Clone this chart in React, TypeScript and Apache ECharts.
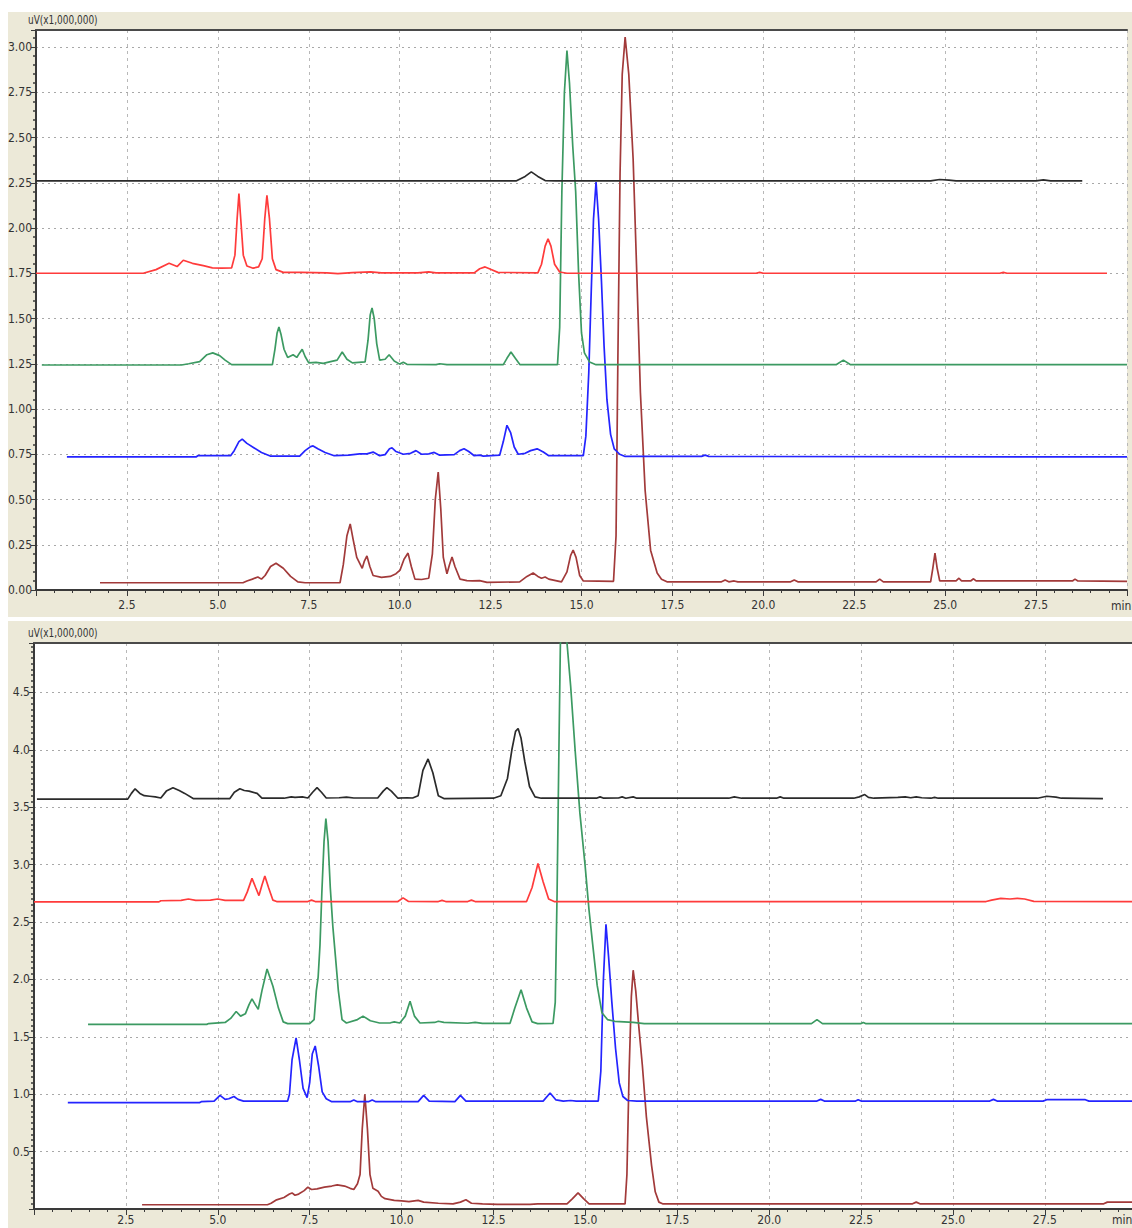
import React, { useEffect, useRef } from "react";
import * as echarts from "echarts";

// ---------- data: top panel (time in min, signal in uV x1,000,000) ----------
const topBlack: number[][] = [
  [0, 2.26], [13.2, 2.26], [13.45, 2.285], [13.62, 2.31], [13.8, 2.285], [14.0, 2.262], [14.3, 2.26],
  [24.6, 2.26], [24.85, 2.268], [25.1, 2.265], [25.3, 2.26], [27.5, 2.26], [27.7, 2.266], [27.9, 2.26], [28.77, 2.26],
];
const topRed: number[][] = [
  [0, 1.75], [2.95, 1.75], [3.3, 1.77], [3.66, 1.805], [3.88, 1.787], [4.05, 1.822], [4.3, 1.805], [4.6, 1.792],
  [4.85, 1.78], [5.1, 1.778], [5.38, 1.78], [5.47, 1.85], [5.53, 2.05], [5.58, 2.19], [5.63, 2.05], [5.7, 1.85],
  [5.8, 1.79], [5.97, 1.778], [6.12, 1.785], [6.22, 1.83], [6.29, 2.05], [6.35, 2.18], [6.42, 2.05], [6.5, 1.83],
  [6.6, 1.77], [6.8, 1.755], [7.3, 1.755], [8.0, 1.752], [8.3, 1.748], [8.7, 1.753], [9.2, 1.758], [9.5, 1.752],
  [10.5, 1.752], [10.8, 1.758], [11.0, 1.752], [12.05, 1.752], [12.2, 1.775], [12.35, 1.785], [12.5, 1.772],
  [12.7, 1.755], [13.8, 1.752], [13.9, 1.8], [14.0, 1.9], [14.08, 1.94], [14.16, 1.9], [14.26, 1.8], [14.4, 1.757],
  [14.6, 1.75], [19.8, 1.75], [19.9, 1.755], [20.0, 1.75], [26.5, 1.75], [26.6, 1.755], [26.7, 1.75], [29.45, 1.75],
];
const topGreen: number[][] = [
  [0.16, 1.243], [4.0, 1.243], [4.2, 1.25], [4.5, 1.262], [4.7, 1.3], [4.86, 1.31], [5.05, 1.295], [5.2, 1.27],
  [5.38, 1.245], [6.5, 1.245], [6.57, 1.33], [6.63, 1.42], [6.68, 1.453], [6.74, 1.41], [6.82, 1.33], [6.92, 1.285],
  [7.07, 1.3], [7.17, 1.285], [7.25, 1.31], [7.32, 1.33], [7.4, 1.29], [7.5, 1.255], [7.7, 1.258], [7.9, 1.252],
  [8.1, 1.262], [8.28, 1.27], [8.42, 1.315], [8.55, 1.275], [8.7, 1.255], [9.05, 1.26], [9.13, 1.38], [9.19, 1.52],
  [9.24, 1.558], [9.3, 1.5], [9.37, 1.36], [9.45, 1.27], [9.6, 1.275], [9.71, 1.3], [9.85, 1.265], [10.0, 1.248],
  [10.1, 1.258], [10.2, 1.247], [11.0, 1.245], [11.1, 1.25], [11.3, 1.245], [12.85, 1.245], [12.95, 1.28],
  [13.06, 1.315], [13.18, 1.28], [13.31, 1.245], [14.34, 1.245], [14.4, 1.45], [14.46, 2.2], [14.53, 2.75],
  [14.6, 2.98], [14.67, 2.8], [14.76, 2.45], [14.84, 2.2], [14.92, 1.75], [15.0, 1.42], [15.08, 1.31], [15.22, 1.26],
  [15.4, 1.245], [22.0, 1.245], [22.2, 1.27], [22.4, 1.245], [30, 1.245],
];
const topBlue: number[][] = [
  [0.85, 0.735], [4.4, 0.735], [4.45, 0.742], [5.35, 0.742], [5.45, 0.77], [5.58, 0.82], [5.67, 0.834], [5.8, 0.81],
  [6.0, 0.785], [6.2, 0.76], [6.44, 0.74], [7.25, 0.74], [7.4, 0.77], [7.55, 0.792], [7.62, 0.796], [7.75, 0.78],
  [7.95, 0.76], [8.2, 0.742], [8.6, 0.745], [8.9, 0.752], [9.1, 0.752], [9.27, 0.762], [9.45, 0.742], [9.6, 0.748],
  [9.72, 0.78], [9.79, 0.785], [9.9, 0.765], [10.1, 0.75], [10.3, 0.755], [10.45, 0.77], [10.6, 0.75], [10.8, 0.752],
  [10.95, 0.76], [11.1, 0.745], [11.5, 0.748], [11.65, 0.77], [11.77, 0.78], [11.9, 0.765], [12.05, 0.742],
  [12.2, 0.745], [12.3, 0.74], [12.75, 0.745], [12.85, 0.82], [12.95, 0.91], [13.05, 0.87], [13.15, 0.79],
  [13.26, 0.75], [13.45, 0.755], [13.6, 0.77], [13.78, 0.78], [13.95, 0.762], [14.1, 0.742], [15.05, 0.742],
  [15.12, 0.85], [15.2, 1.2], [15.26, 1.6], [15.33, 2.05], [15.4, 2.254], [15.47, 2.05], [15.55, 1.7], [15.62, 1.35],
  [15.7, 1.05], [15.8, 0.86], [15.9, 0.78], [16.05, 0.75], [16.2, 0.738], [18.3, 0.738], [18.4, 0.745], [18.5, 0.738],
  [30, 0.735],
];
const topBrown: number[][] = [
  [1.76, 0.04], [5.69, 0.04], [5.8, 0.05], [5.95, 0.06], [6.1, 0.072], [6.2, 0.06], [6.3, 0.08], [6.45, 0.13],
  [6.6, 0.148], [6.8, 0.12], [7.0, 0.075], [7.2, 0.045], [7.4, 0.04], [8.36, 0.04], [8.45, 0.14], [8.55, 0.3],
  [8.64, 0.365], [8.72, 0.28], [8.82, 0.18], [8.97, 0.12], [9.03, 0.16], [9.1, 0.188], [9.18, 0.13], [9.27, 0.08],
  [9.5, 0.07], [9.74, 0.075], [9.9, 0.09], [10.01, 0.11], [10.12, 0.17], [10.23, 0.204], [10.32, 0.13], [10.42, 0.06],
  [10.6, 0.058], [10.8, 0.065], [10.9, 0.2], [10.98, 0.5], [11.06, 0.652], [11.13, 0.45], [11.2, 0.18], [11.3, 0.09],
  [11.37, 0.14], [11.44, 0.182], [11.52, 0.13], [11.66, 0.06], [11.85, 0.052], [12.0, 0.05], [12.2, 0.052],
  [12.4, 0.042], [13.3, 0.045], [13.5, 0.075], [13.67, 0.094], [13.8, 0.075], [13.9, 0.065], [14.0, 0.072],
  [14.1, 0.06], [14.45, 0.045], [14.6, 0.1], [14.7, 0.19], [14.77, 0.221], [14.85, 0.18], [14.95, 0.08], [15.05, 0.05],
  [15.88, 0.048], [15.95, 0.3], [16.0, 1.27], [16.06, 2.3], [16.12, 2.85], [16.2, 3.055], [16.3, 2.85], [16.42, 2.38],
  [16.52, 1.75], [16.62, 1.09], [16.75, 0.55], [16.9, 0.22], [17.08, 0.094], [17.2, 0.06], [17.35, 0.045],
  [18.85, 0.045], [18.95, 0.055], [19.05, 0.045], [19.2, 0.05], [19.3, 0.045], [20.75, 0.045], [20.85, 0.055],
  [20.95, 0.045], [23.1, 0.045], [23.2, 0.06], [23.3, 0.045], [24.6, 0.045], [24.66, 0.12], [24.72, 0.204],
  [24.78, 0.12], [24.85, 0.05], [25.3, 0.05], [25.38, 0.065], [25.45, 0.05], [25.7, 0.05], [25.78, 0.062],
  [25.85, 0.05], [28.5, 0.05], [28.57, 0.06], [28.65, 0.05], [30, 0.048],
];

// ---------- data: bottom panel ----------
const botBlack: number[][] = [
  [0.08, 3.57], [2.55, 3.57], [2.65, 3.62], [2.75, 3.66], [2.88, 3.62], [3.0, 3.6], [3.15, 3.595], [3.3, 3.59],
  [3.45, 3.58], [3.6, 3.64], [3.78, 3.67], [3.95, 3.645], [4.1, 3.62], [4.33, 3.575], [5.33, 3.575], [5.45, 3.63],
  [5.6, 3.66], [5.72, 3.645], [5.85, 3.64], [6.07, 3.62], [6.2, 3.578], [6.8, 3.578], [7.0, 3.59], [7.1, 3.585],
  [7.3, 3.59], [7.45, 3.58], [7.58, 3.63], [7.7, 3.67], [7.82, 3.63], [7.95, 3.58], [8.3, 3.582], [8.5, 3.588],
  [8.7, 3.58], [9.35, 3.58], [9.5, 3.64], [9.6, 3.67], [9.72, 3.64], [9.9, 3.578], [10.15, 3.582], [10.3, 3.58],
  [10.45, 3.6], [10.58, 3.82], [10.72, 3.92], [10.85, 3.8], [11.0, 3.6], [11.15, 3.575], [12.5, 3.578], [12.7, 3.6],
  [12.88, 3.75], [13.0, 4.0], [13.1, 4.16], [13.17, 4.185], [13.25, 4.1], [13.35, 3.9], [13.48, 3.68], [13.63, 3.59],
  [13.8, 3.578], [15.3, 3.578], [15.4, 3.59], [15.5, 3.578], [15.9, 3.58], [16.0, 3.59], [16.1, 3.578], [16.3, 3.59],
  [16.4, 3.578], [18.9, 3.578], [19.05, 3.59], [19.25, 3.578], [20.2, 3.578], [20.3, 3.59], [20.4, 3.578],
  [22.3, 3.578], [22.45, 3.59], [22.6, 3.61], [22.7, 3.585], [22.85, 3.578], [23.5, 3.585], [23.7, 3.59],
  [23.85, 3.582], [24.0, 3.59], [24.15, 3.582], [24.4, 3.578], [24.5, 3.585], [24.6, 3.578], [27.3, 3.578],
  [27.55, 3.595], [27.8, 3.588], [27.95, 3.578], [29.08, 3.575],
];
const botRed: number[][] = [
  [0, 2.675], [3.4, 2.675], [3.45, 2.685], [4.0, 2.688], [4.2, 2.7], [4.4, 2.688], [4.8, 2.69], [5.0, 2.7],
  [5.2, 2.688], [5.7, 2.688], [5.8, 2.76], [5.93, 2.88], [6.03, 2.8], [6.12, 2.73], [6.2, 2.82], [6.28, 2.9],
  [6.38, 2.8], [6.5, 2.69], [6.6, 2.678], [7.45, 2.678], [7.55, 2.69], [7.65, 2.678], [9.9, 2.678], [10.04, 2.71],
  [10.18, 2.68], [11.0, 2.678], [11.1, 2.688], [11.2, 2.678], [11.8, 2.678], [11.9, 2.69], [12.0, 2.678],
  [13.4, 2.678], [13.55, 2.8], [13.71, 3.01], [13.85, 2.85], [14.0, 2.7], [14.15, 2.678], [25.9, 2.678],
  [26.05, 2.69], [26.3, 2.705], [26.55, 2.7], [26.75, 2.706], [26.95, 2.7], [27.2, 2.68], [29.87, 2.678],
];
const botGreen: number[][] = [
  [1.47, 1.608], [4.7, 1.608], [4.75, 1.615], [5.2, 1.625], [5.35, 1.66], [5.5, 1.72], [5.62, 1.68], [5.75, 1.7],
  [5.85, 1.78], [5.93, 1.83], [6.02, 1.78], [6.1, 1.74], [6.2, 1.9], [6.34, 2.09], [6.5, 1.94], [6.65, 1.75],
  [6.78, 1.63], [6.9, 1.615], [7.5, 1.615], [7.62, 1.65], [7.68, 1.9], [7.73, 2.02], [7.78, 2.3], [7.83, 2.75],
  [7.89, 3.2], [7.94, 3.4], [8.0, 3.2], [8.06, 2.8], [8.13, 2.46], [8.2, 2.2], [8.28, 1.9], [8.38, 1.65], [8.5, 1.62],
  [8.8, 1.65], [8.95, 1.68], [9.15, 1.64], [9.4, 1.62], [9.7, 1.622], [9.8, 1.63], [9.95, 1.62], [10.1, 1.68],
  [10.23, 1.81], [10.35, 1.68], [10.5, 1.62], [10.9, 1.625], [11.0, 1.635], [11.15, 1.625], [11.8, 1.618],
  [12.0, 1.625], [12.2, 1.617], [12.95, 1.617], [13.08, 1.75], [13.25, 1.91], [13.4, 1.75], [13.55, 1.63],
  [13.7, 1.615], [14.12, 1.617], [14.18, 1.8], [14.23, 2.75], [14.28, 4.0], [14.32, 4.93], [14.4, 5.0],
  [14.5, 4.93], [14.6, 4.55], [14.72, 4.0], [14.85, 3.45], [14.99, 3.0], [15.1, 2.6], [15.2, 2.3], [15.32, 1.95],
  [15.45, 1.71], [15.6, 1.65], [15.8, 1.635], [16.3, 1.625], [16.6, 1.615], [21.15, 1.615], [21.3, 1.65],
  [21.45, 1.615], [22.5, 1.615], [22.56, 1.625], [22.62, 1.615], [29.87, 1.615],
];
const botBlue: number[][] = [
  [0.92, 0.926], [4.5, 0.926], [4.55, 0.935], [4.9, 0.94], [5.06, 0.99], [5.2, 0.955], [5.3, 0.96], [5.44, 0.98],
  [5.55, 0.955], [5.7, 0.94], [6.9, 0.94], [6.95, 1.0], [7.02, 1.3], [7.13, 1.49], [7.22, 1.3], [7.32, 1.05],
  [7.43, 0.97], [7.5, 1.1], [7.57, 1.35], [7.65, 1.42], [7.74, 1.25], [7.84, 1.02], [7.95, 0.96], [8.1, 0.935],
  [8.6, 0.935], [8.7, 0.95], [8.8, 0.935], [9.1, 0.935], [9.2, 0.95], [9.3, 0.935], [10.45, 0.935], [10.6, 0.99],
  [10.75, 0.94], [11.45, 0.935], [11.6, 0.99], [11.75, 0.94], [13.85, 0.94], [14.04, 1.01], [14.2, 0.95],
  [14.4, 0.94], [14.6, 0.945], [14.75, 0.94], [15.35, 0.94], [15.42, 1.2], [15.49, 2.0], [15.56, 2.48],
  [15.63, 2.2], [15.72, 1.8], [15.82, 1.4], [15.92, 1.1], [16.02, 0.98], [16.15, 0.945], [16.4, 0.94], [21.3, 0.94],
  [21.4, 0.955], [21.5, 0.94], [22.35, 0.94], [22.42, 0.952], [22.5, 0.94], [26.0, 0.94], [26.1, 0.955],
  [26.2, 0.94], [27.45, 0.94], [27.55, 0.952], [28.6, 0.952], [28.7, 0.94], [29.87, 0.94],
];
const botBrown: number[][] = [
  [2.94, 0.037], [6.35, 0.037], [6.45, 0.05], [6.6, 0.08], [6.8, 0.1], [6.95, 0.13], [7.02, 0.14], [7.1, 0.12],
  [7.2, 0.13], [7.35, 0.16], [7.45, 0.19], [7.55, 0.17], [7.7, 0.175], [7.9, 0.19], [8.1, 0.2], [8.25, 0.21],
  [8.45, 0.2], [8.6, 0.18], [8.7, 0.17], [8.8, 0.22], [8.87, 0.3], [8.93, 0.7], [9.0, 1.0], [9.07, 0.7], [9.14, 0.3],
  [9.22, 0.18], [9.36, 0.155], [9.45, 0.11], [9.55, 0.09], [9.8, 0.075], [10.0, 0.07], [10.2, 0.065], [10.45, 0.075],
  [10.6, 0.06], [11.0, 0.05], [11.4, 0.045], [11.6, 0.06], [11.75, 0.08], [11.9, 0.05], [12.2, 0.045], [12.6, 0.04],
  [13.5, 0.04], [13.7, 0.045], [14.5, 0.045], [14.65, 0.09], [14.8, 0.14], [14.95, 0.09], [15.1, 0.045],
  [16.08, 0.045], [16.13, 0.3], [16.19, 1.2], [16.25, 1.85], [16.3, 2.08], [16.37, 1.9], [16.45, 1.6], [16.55, 1.25],
  [16.66, 0.8], [16.8, 0.38], [16.9, 0.15], [17.0, 0.06], [17.1, 0.045], [23.9, 0.045], [24.0, 0.06], [24.1, 0.045],
  [29.1, 0.045], [29.2, 0.06], [29.87, 0.06],
];

const COLORS = { black: "#2b2b2b", red: "#ff3b3b", green: "#3c9a62", blue: "#2424ff", brown: "#a23a3a" };
const FONT = '"Liberation Sans Narrow", "DejaVu Sans Condensed", "Arial Narrow", sans-serif';
const TOP_X_MAX = 30;
const BOT_X_MAX = 29.87;
const TOP_Y_MAX = 3.094;
const BOT_Y_MAX = 4.93;

function near(v: number, step: number) {
  const r = v / step;
  return Math.abs(r - Math.round(r)) < 1e-6;
}

function xAxisMain(gridIndex: number, max: number, labelMargin: number) {
  return {
    type: "value",
    gridIndex,
    min: 0,
    max,
    interval: 2.5,
    position: "bottom",
    axisLine: { show: true, onZero: false, lineStyle: { color: "#3a3a3a", width: 2 } },
    axisTick: { show: true, length: 6, lineStyle: { color: "#3a3a3a", width: 1 } },
    minorTick: { show: true, splitNumber: 5, length: 3, lineStyle: { color: "#3a3a3a", width: 1 } },
    axisLabel: {
      margin: labelMargin,
      color: "#333",
      fontFamily: FONT,
      fontSize: 12,
      showMaxLabel: false,
      formatter: (v: number) => (v < 0.01 || v > 29.5 || !near(v, 2.5) ? "" : v.toFixed(1)),
    },
    splitLine: { show: true, lineStyle: { color: "#b8b8b8", width: 1, type: [3, 4] } },
  };
}
function xAxisTopBorder(gridIndex: number, max: number) {
  return {
    type: "value",
    gridIndex,
    min: 0,
    max,
    position: "top",
    axisLine: { show: true, onZero: false, lineStyle: { color: "#4a4a4a", width: 2 } },
    axisTick: { show: false },
    axisLabel: { show: false },
    splitLine: { show: false },
  };
}
function yAxisMain(gridIndex: number, max: number, interval: number, minorSplit: number, digits: number, showZero: boolean) {
  return {
    type: "value",
    gridIndex,
    min: 0,
    max,
    interval,
    axisLine: { show: true, onZero: false, lineStyle: { color: "#3a3a3a", width: 2 } },
    axisTick: { show: true, length: 5, lineStyle: { color: "#3a3a3a", width: 1 } },
    minorTick: { show: true, splitNumber: minorSplit, length: 3, lineStyle: { color: "#3a3a3a", width: 1.5 } },
    axisLabel: {
      margin: 4,
      color: "#333",
      fontFamily: FONT,
      fontSize: 12,
      showMaxLabel: false,
      formatter: (v: number) => {
        if (!near(v, interval)) return "";
        if (!showZero && v < 1e-6) return "";
        return v.toFixed(digits);
      },
    },
    splitLine: { show: true, lineStyle: { color: "#a8a8a8", width: 1, type: [2, 4] } },
  };
}

function lineSeries(data: number[][], color: string, idx: number) {
  return {
    type: "line",
    data,
    xAxisIndex: idx === 0 ? 0 : 2,
    yAxisIndex: idx,
    showSymbol: false,
    symbol: "none",
    lineStyle: { color, width: 1.7 },
    z: 3,
  };
}

export default function App() {
  const ref = useRef<HTMLDivElement>(null);
  useEffect(() => {
    document.body.style.margin = "0";
    document.body.style.overflow = "hidden";
    if (!ref.current) return;
    const chart = echarts.init(ref.current, null, { renderer: "svg" });
    chart.setOption({
      animation: false,
      backgroundColor: "#ECE9D8",
      textStyle: { fontFamily: FONT },
      grid: [
        {
          left: 36, top: 30, width: 1091, height: 560, show: true, backgroundColor: "#ffffff", borderWidth: 0,
          containLabel: false, outerBoundsMode: "none",
        },
        {
          left: 34, top: 643, width: 1098, height: 566, show: true, backgroundColor: "#ffffff", borderWidth: 0,
          containLabel: false, outerBoundsMode: "none",
        },
      ],
      xAxis: [
        xAxisMain(0, TOP_X_MAX, 9),
        xAxisTopBorder(0, TOP_X_MAX),
        xAxisMain(1, BOT_X_MAX, 5),
        xAxisTopBorder(1, BOT_X_MAX),
      ],
      yAxis: [
        yAxisMain(0, TOP_Y_MAX, 0.25, 5, 2, true),
        yAxisMain(1, BOT_Y_MAX, 0.5, 10, 1, false),
      ],
      graphic: [
        { type: "rect", shape: { x: 0, y: 0, width: 8, height: 1228 }, style: { fill: "#ffffff" } },
        { type: "rect", shape: { x: 0, y: 0, width: 1132, height: 12 }, style: { fill: "#ffffff" } },
        { type: "rect", shape: { x: 0, y: 617, width: 1132, height: 4 }, style: { fill: "#ffffff" } },
        { type: "text", x: 28, y: 14, scaleX: 0.83, style: { text: "uV(x1,000,000)", fill: "#333", font: `12px ${FONT}` } },
        { type: "text", x: 28, y: 627, scaleX: 0.83, style: { text: "uV(x1,000,000)", fill: "#333", font: `12px ${FONT}` } },
        { type: "text", x: 1111, y: 600, style: { text: "min", fill: "#333", font: `12px ${FONT}` } },
        { type: "text", x: 1112, y: 1214, style: { text: "min", fill: "#333", font: `12px ${FONT}` } },
      ],
      series: [
        lineSeries(topBrown, COLORS.brown, 0),
        lineSeries(topBlue, COLORS.blue, 0),
        lineSeries(topGreen, COLORS.green, 0),
        lineSeries(topRed, COLORS.red, 0),
        lineSeries(topBlack, COLORS.black, 0),
        lineSeries(botBrown, COLORS.brown, 1),
        lineSeries(botBlue, COLORS.blue, 1),
        lineSeries(botGreen, COLORS.green, 1),
        lineSeries(botRed, COLORS.red, 1),
        lineSeries(botBlack, COLORS.black, 1),
      ],
    });
    return () => chart.dispose();
  }, []);
  return <div ref={ref} style={{ width: 1132, height: 1228 }} />;
}
